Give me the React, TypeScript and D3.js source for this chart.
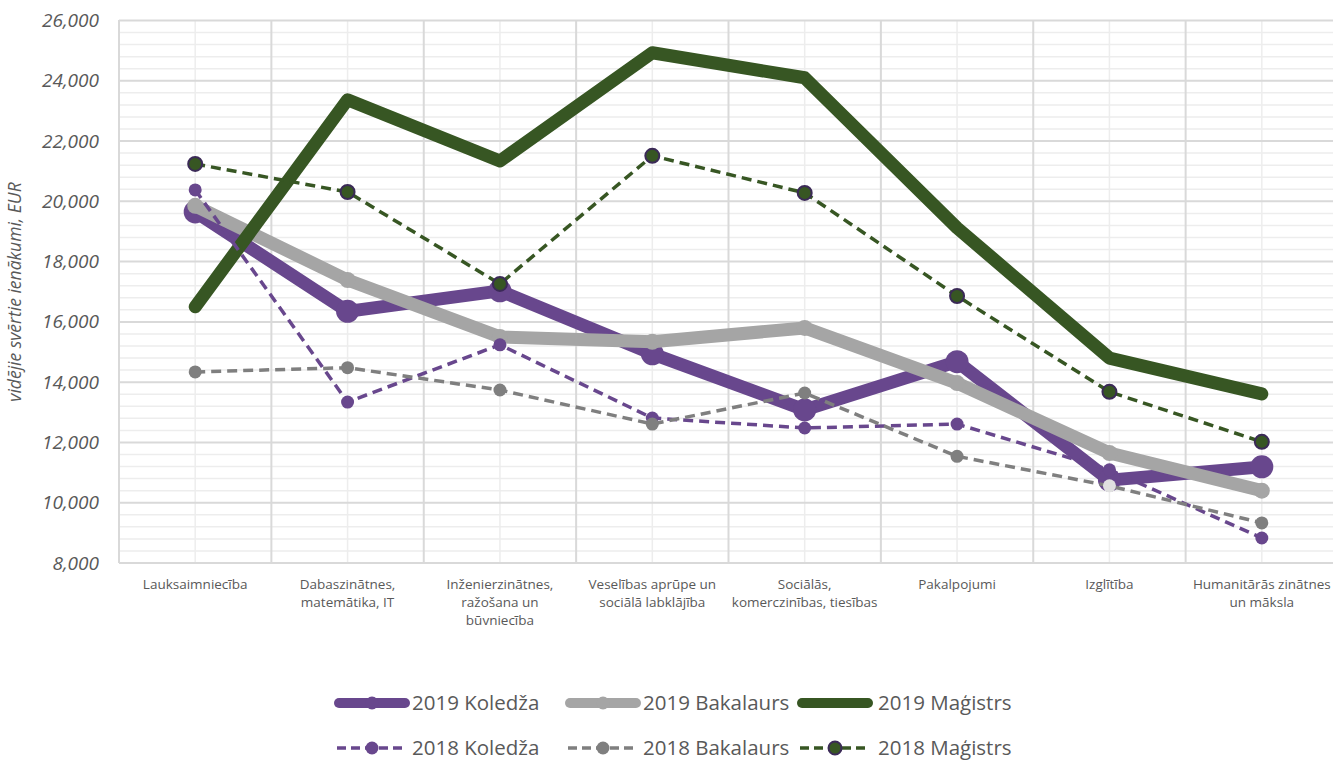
import * as d3 from 'd3'
import { useEffect, useRef } from 'react'

// nozares (x ass)
const categories = [
  'Lauksaimniecība',
  'Dabaszinātnes, matemātika, IT',
  'Inženierzinātnes, ražošana un būvniecība',
  'Veselības aprūpe un sociālā labklājība',
  'Sociālās, komerczinības, tiesības',
  'Pakalpojumi',
  'Izglītība',
  'Humanitārās zinātnes un māksla',
]
const categoryLines = [
  ['Lauksaimniecība'],
  ['Dabaszinātnes,', 'matemātika, IT'],
  ['Inženierzinātnes,', 'ražošana un', 'būvniecība'],
  ['Veselības aprūpe un', 'sociālā labklājība'],
  ['Sociālās,', 'komerczinības, tiesības'],
  ['Pakalpojumi'],
  ['Izglītība'],
  ['Humanitārās zinātnes', 'un māksla'],
]

const koledza2019 = [19650, 16350, 17030, 14940, 13080, 14680, 10750, 11190]
const bakalaurs2019 = [19850, 17390, 15500, 15340, 15800, 13970, 11650, 10400]
const magistrs2019 = [16500, 23370, 21340, 24930, 24100, 19120, 14800, 13610]
const koledza2018 = [20380, 13340, 15240, 12810, 12480, 12610, 11090, 8830]
const bakalaurs2018 = [14340, 14480, 13740, 12610, 13640, 11540, 10560, 9330]
const magistrs2018 = [21240, 20310, 17260, 21510, 20280, 16860, 13680, 12020]

const yTicks = [8000, 10000, 12000, 14000, 16000, 18000, 20000, 22000, 24000, 26000]

const PURPLE = '#68478d'
const LGREY = '#a5a5a5'
const DGREY = '#7f7f7f'
const GREEN = '#375623'
const TEXT = '#595959'

const series = [
  { name: '2019 Koledža', values: koledza2019, color: PURPLE, width: 13, dash: null, r: 11.5, mStroke: null },
  { name: '2019 Bakalaurs', values: bakalaurs2019, color: LGREY, width: 13, dash: null, r: 8, mStroke: null },
  { name: '2019 Maģistrs', values: magistrs2019, color: GREEN, width: 13, dash: null, r: 0, mStroke: null },
  { name: '2018 Koledža', values: koledza2018, color: PURPLE, width: 3.5, dash: '10 6', r: 6.5, mStroke: null },
  { name: '2018 Bakalaurs', values: bakalaurs2018, color: DGREY, width: 3.5, dash: '10 6', r: 6.5, mStroke: null },
  { name: '2018 Maģistrs', values: magistrs2018, color: GREEN, width: 3.5, dash: '10 6', r: 7, mStroke: '#3b2a57' },
]

const App = () => {
  const ref = useRef<SVGSVGElement>(null)

  useEffect(() => {
    const width = 1333
    const height = 760
    const svg = d3.select(ref.current)
    svg.selectAll('*').remove()
    svg.attr('width', width).attr('height', height)

    const x = d3.scaleBand<string>().domain(categories).range([119, 1338])
    const y = d3.scaleLinear().domain([8000, 26000]).range([563, 20.5])
    const cx = (i: number) => (x(categories[i]) as number) + x.bandwidth() / 2

    // gridlines
    const grid = svg.append('g')
    const minor = d3.range(8000, 26001, 400).filter((v) => v % 2000 !== 0)
    grid
      .selectAll('line.minor')
      .data(minor)
      .join('line')
      .attr('x1', 119)
      .attr('x2', width)
      .attr('y1', (d) => y(d))
      .attr('y2', (d) => y(d))
      .attr('stroke', '#ededed')
      .attr('stroke-width', 1.5)
    grid
      .selectAll('line.vminor')
      .data(categories)
      .join('line')
      .attr('x1', (d) => (x(d) as number) + x.bandwidth() / 2)
      .attr('x2', (d) => (x(d) as number) + x.bandwidth() / 2)
      .attr('y1', 20)
      .attr('y2', 563)
      .attr('stroke', '#ededed')
      .attr('stroke-width', 1.5)
    grid
      .selectAll('line.major')
      .data(yTicks)
      .join('line')
      .attr('x1', 119)
      .attr('x2', width)
      .attr('y1', (d) => y(d))
      .attr('y2', (d) => y(d))
      .attr('stroke', '#d9d9d9')
      .attr('stroke-width', 2)
    grid
      .selectAll('line.vmajor')
      .data(categories)
      .join('line')
      .attr('x1', (d) => x(d) as number)
      .attr('x2', (d) => x(d) as number)
      .attr('y1', 20)
      .attr('y2', 563)
      .attr('stroke', '#d9d9d9')
      .attr('stroke-width', 2)

    // Y axis
    const yAxis = svg
      .append('g')
      .attr('transform', 'translate(119,0)')
      .call(d3.axisLeft(y).tickValues(yTicks).tickSize(0).tickPadding(20).tickFormat(d3.format(',')))
    yAxis.select('.domain').remove()
    yAxis
      .selectAll('text')
      .attr('fill', TEXT)
      .style('font-family', 'Open Sans, sans-serif')
      .style('font-style', 'italic')
      .style('font-size', '19px')

    svg
      .append('text')
      .attr('transform', 'translate(21,292) rotate(-90)')
      .attr('text-anchor', 'middle')
      .attr('fill', TEXT)
      .style('font-family', 'Open Sans, sans-serif')
      .style('font-style', 'italic')
      .style('font-size', '17.5px')
      .text('vidējie svērtie ienākumi, EUR')

    // X labels
    const xl = svg
      .append('g')
      .selectAll('text')
      .data(categoryLines)
      .join('text')
      .attr('x', (d, i) => cx(i))
      .attr('y', 589)
      .attr('text-anchor', 'middle')
      .attr('fill', TEXT)
      .style('font-family', 'Open Sans, sans-serif')
      .style('font-size', '13.5px')
    xl.selectAll('tspan')
      .data((d) => d)
      .join('tspan')
      .attr('x', function () {
        return (this.parentNode as SVGTextElement).getAttribute('x')
      })
      .attr('dy', (d, i) => (i === 0 ? 0 : 18))
      .text((d) => d)

    // Lines
    const line = d3
      .line<number>()
      .x((d, i) => cx(i))
      .y((d) => y(d))
    const plot = svg.append('g')
    series.forEach((s, si) => {
      plot
        .append('path')
        .datum(s.values)
        .attr('d', line)
        .attr('fill', 'none')
        .attr('stroke', s.color)
        .attr('stroke-width', s.width)
        .attr('stroke-linejoin', 'round')
        .attr('stroke-linecap', s.dash ? 'butt' : 'round')
        .attr('stroke-dasharray', s.dash)
      if (s.r > 0) {
        plot
          .append('g')
          .selectAll('circle')
          .data(s.values)
          .join('circle')
          .attr('cx', (d, i) => cx(i))
          .attr('cy', (d) => y(d))
          .attr('r', s.r)
          // one highlighted point (2018 Bakalaurs, Izglītība) is light
          .attr('fill', (d, i) => (si === 4 && i === 6 ? '#e0e0e0' : s.color))
          .attr('stroke', s.mStroke)
          .attr('stroke-width', s.mStroke ? 2 : 0)
      }
    })

    // Legend
    const legendPos = [
      [335, 703],
      [566, 703],
      [798, 703],
      [335, 748],
      [566, 748],
      [798, 748],
    ]
    const lg = svg.append('g')
    series.forEach((s, i) => {
      const [lx, ly] = legendPos[i]
      lg.append('line')
        .attr('x1', lx + (s.dash ? 2 : 4))
        .attr('x2', lx + (s.dash ? 72 : 70))
        .attr('y1', ly)
        .attr('y2', ly)
        .attr('stroke', s.color)
        .attr('stroke-width', s.dash ? 3.5 : 10)
        .attr('stroke-linecap', s.dash ? 'butt' : 'round')
        .attr('stroke-dasharray', s.dash ? '9 5' : null)
      if (s.r > 0) {
        lg.append('circle')
          .attr('cx', lx + 37)
          .attr('cy', ly)
          .attr('r', s.dash ? Math.min(s.r, 6.5) : 6.5)
          .attr('fill', s.color)
          .attr('stroke', s.mStroke)
          .attr('stroke-width', s.mStroke ? 2 : 0)
      }
      lg.append('text')
        .attr('x', lx + (i % 3 === 2 ? 80 : 77))
        .attr('y', ly + 7)
        .attr('fill', TEXT)
        .style('font-family', 'Open Sans, sans-serif')
        .style('font-size', '20.5px')
        .text(s.name)
    })
  }, [])

  return (
    <div style={{ position: 'absolute', left: 0, top: 0 }}>
      <svg ref={ref} style={{ display: 'block' }}></svg>
    </div>
  )
}

export default App
